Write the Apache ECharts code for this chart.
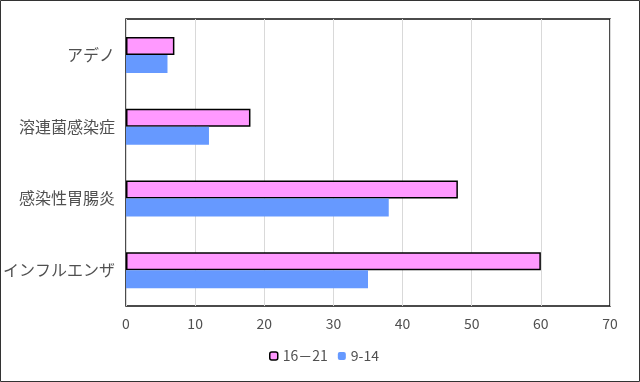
<!DOCTYPE html>
<html><head><meta charset="utf-8">
<script src="https://cdn.jsdelivr.net/npm/echarts@6/dist/echarts.min.js"></script>
<style>html,body{margin:0;padding:0;background:#fff}#c{width:640px;height:382px}</style>
</head><body><div id="c"></div>
<script>
const categories = ['インフルエンザ', '感染性胃腸炎', '溶連菌感染症', 'アデノ'];
const seriesNames = ['16－21', '9-14'];
const values1621 = [60, 48, 18, 7];
const values914 = [35, 38, 12, 6];
const xTicks = [0, 10, 20, 30, 40, 50, 60, 70];

const font = '"Noto Sans CJK JP", "Noto Sans", sans-serif';
const chart = echarts.init(document.getElementById('c'));
chart.setOption({
  animation: false,
  textStyle: { fontFamily: font },
  graphic: [{ type: 'rect', shape: { x: 0.5, y: 0.5, width: 639, height: 381 }, style: { fill: 'none', stroke: '#333', lineWidth: 1 }, z: 100 }],
  grid: { left: 126, right: 30, top: 19, bottom: 76, show: true, borderColor: '#111', borderWidth: 1.5, backgroundColor: 'transparent' },
  legend: {
    bottom: 14, left: 264, itemWidth: 8, itemHeight: 8, itemGap: 10,
    textStyle: { fontSize: 14, color: '#505050', fontFamily: font },
    data: [
      { name: seriesNames[0], itemStyle: { color: '#ff99ff', borderColor: '#000', borderWidth: 1.5 } },
      { name: seriesNames[1], itemStyle: { color: '#6699ff', borderWidth: 0 } }
    ]
  },
  xAxis: {
    type: 'value', min: xTicks[0], max: xTicks[xTicks.length - 1], interval: 10,
    axisLine: { show: false }, axisTick: { show: false },
    splitLine: { lineStyle: { color: '#d9d9d9', width: 1 } },
    axisLabel: { fontSize: 14, color: '#505050', margin: 11, fontFamily: font }
  },
  yAxis: {
    type: 'category', data: categories,
    axisLine: { show: false }, axisTick: { show: false },
    axisLabel: { fontSize: 16, color: '#505050', margin: 11, fontFamily: font }
  },
  series: [
    { name: seriesNames[0], type: 'bar', data: values1621, barWidth: 18, barGap: '0%',
      itemStyle: { color: '#ff99ff', borderColor: '#000', borderWidth: 1.5 } },
    { name: seriesNames[1], type: 'bar', data: values914, barWidth: 18, barGap: '0%',
      itemStyle: { color: '#6699ff' } }
  ]
});
</script></body></html>
